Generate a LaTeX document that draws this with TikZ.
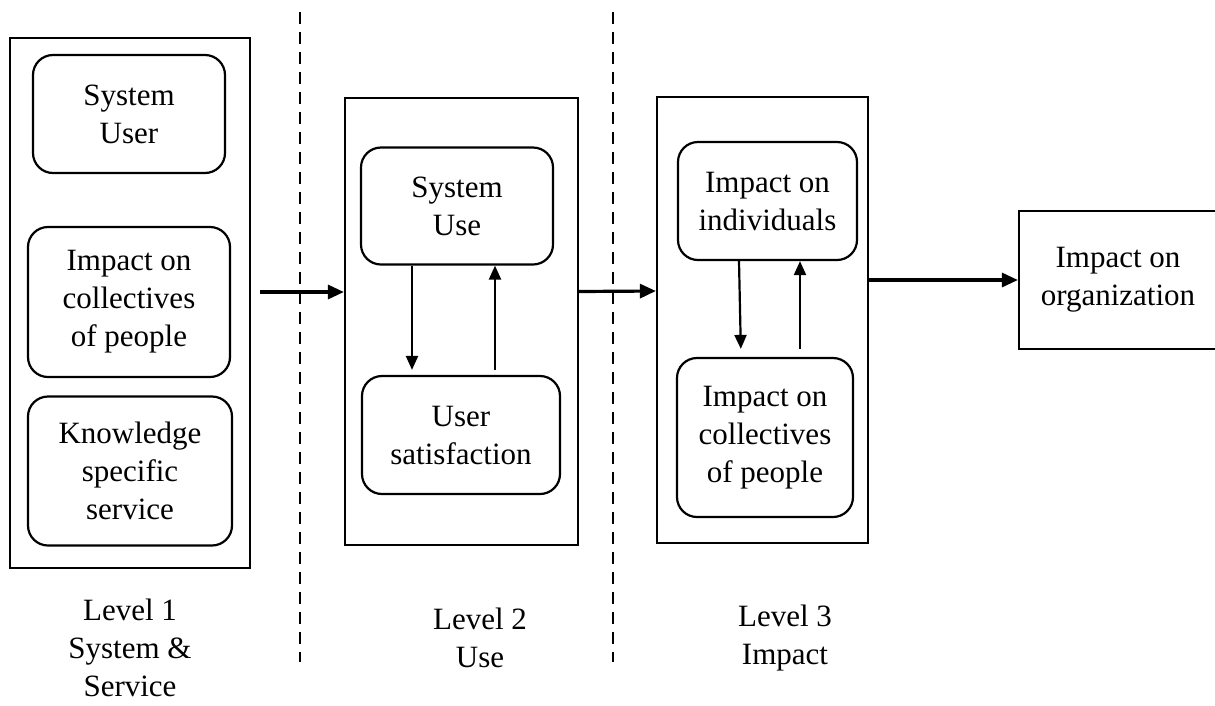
\documentclass[tikz,border=0pt]{standalone}
\usepackage{fontspec}
\setmainfont{Liberation Serif}
\usetikzlibrary{positioning, arrows.meta}

\begin{document}
\begin{tikzpicture}[x=1pt, y=-1pt,
  every node/.style={font=\fontsize{31}{38}\selectfont, align=center},
  frame/.style={draw, line width=2.2pt, inner sep=0pt},
  rbox/.style={draw, line width=2.2pt, rounded corners=20pt, inner sep=0pt},
  bigarrow/.style={line width=3.2pt, -{Triangle[length=16pt,width=14pt]}},
  smallarrow/.style={line width=2.2pt, -{Triangle[length=14pt,width=12pt]}},
  divider/.style={line width=1.8pt, dash pattern=on 12pt off 8pt}]
\useasboundingbox (0,0) rectangle (1215,705);

% level 1
\node[frame, minimum width=240pt, minimum height=530pt] (lvlA) at (130,303) {};
\node[rbox, minimum width=192pt, minimum height=118pt] (sysuser) at (129,114) {System\\User};
\node[rbox, minimum width=202pt, minimum height=150pt] (collA) at (129,302) {Impact on\\collectives\\of people};
\node[rbox, minimum width=204pt, minimum height=149pt] (know) at (130,471) {Knowledge\\specific\\service};

% level 2
\node[frame, minimum width=233pt, minimum height=447pt] (lvlB) at (461.5,321.5) {};
\node[rbox, minimum width=192pt, minimum height=117pt] (sysuse) at (457,206) {System\\Use};
\node[rbox, minimum width=198pt, minimum height=118pt] (usat) at (461,435) {User\\satisfaction};

% level 3
\node[frame, minimum width=211pt, minimum height=446pt] (lvlC) at (762.5,320) {};
\node[rbox, minimum width=179pt, minimum height=118pt] (indiv) at (767.5,201) {Impact on\\individuals};
\node[rbox, minimum width=176pt, minimum height=159pt] (collC) at (765,437.5) {Impact on\\collectives\\of people};

\node[frame, minimum width=198pt, minimum height=138pt] (org) at (1118,280) {Impact on\\organization};

% separators
\draw[divider] (300,12) -- (300,662);
\draw[divider] (613,12) -- (613,662);

% connectors
\coordinate (start) at (260,292);
\draw[bigarrow] (start) -- (start -| lvlB.west);
\draw[bigarrow] ([yshift=30pt]lvlB.east) -- ([yshift=29pt]lvlC.west);
\draw[bigarrow] (org.west -| lvlC.east) -- (org.west);

\draw[smallarrow, shorten >=5pt] ([xshift=-45pt]sysuse.south) -- ([xshift=-49pt]usat.north);
\draw[smallarrow, shorten <=5pt] ([xshift=34pt]usat.north) -- ([xshift=38pt]sysuse.south);
\draw[smallarrow, shorten >=8pt] ([xshift=-28.5pt]indiv.south) -- ([xshift=-24pt]collC.north);
\draw[smallarrow, shorten <=8pt] ([xshift=35pt]collC.north) -- ([xshift=32.5pt]indiv.south);

% level labels
\node (lbA) at (130,648) {Level 1\\System \&\\Service};
\node (lbB) at (480,638) {Level 2\\Use};
\node (lbC) at (785,638) {Level 3\\Impact};
\end{tikzpicture}
\end{document}
